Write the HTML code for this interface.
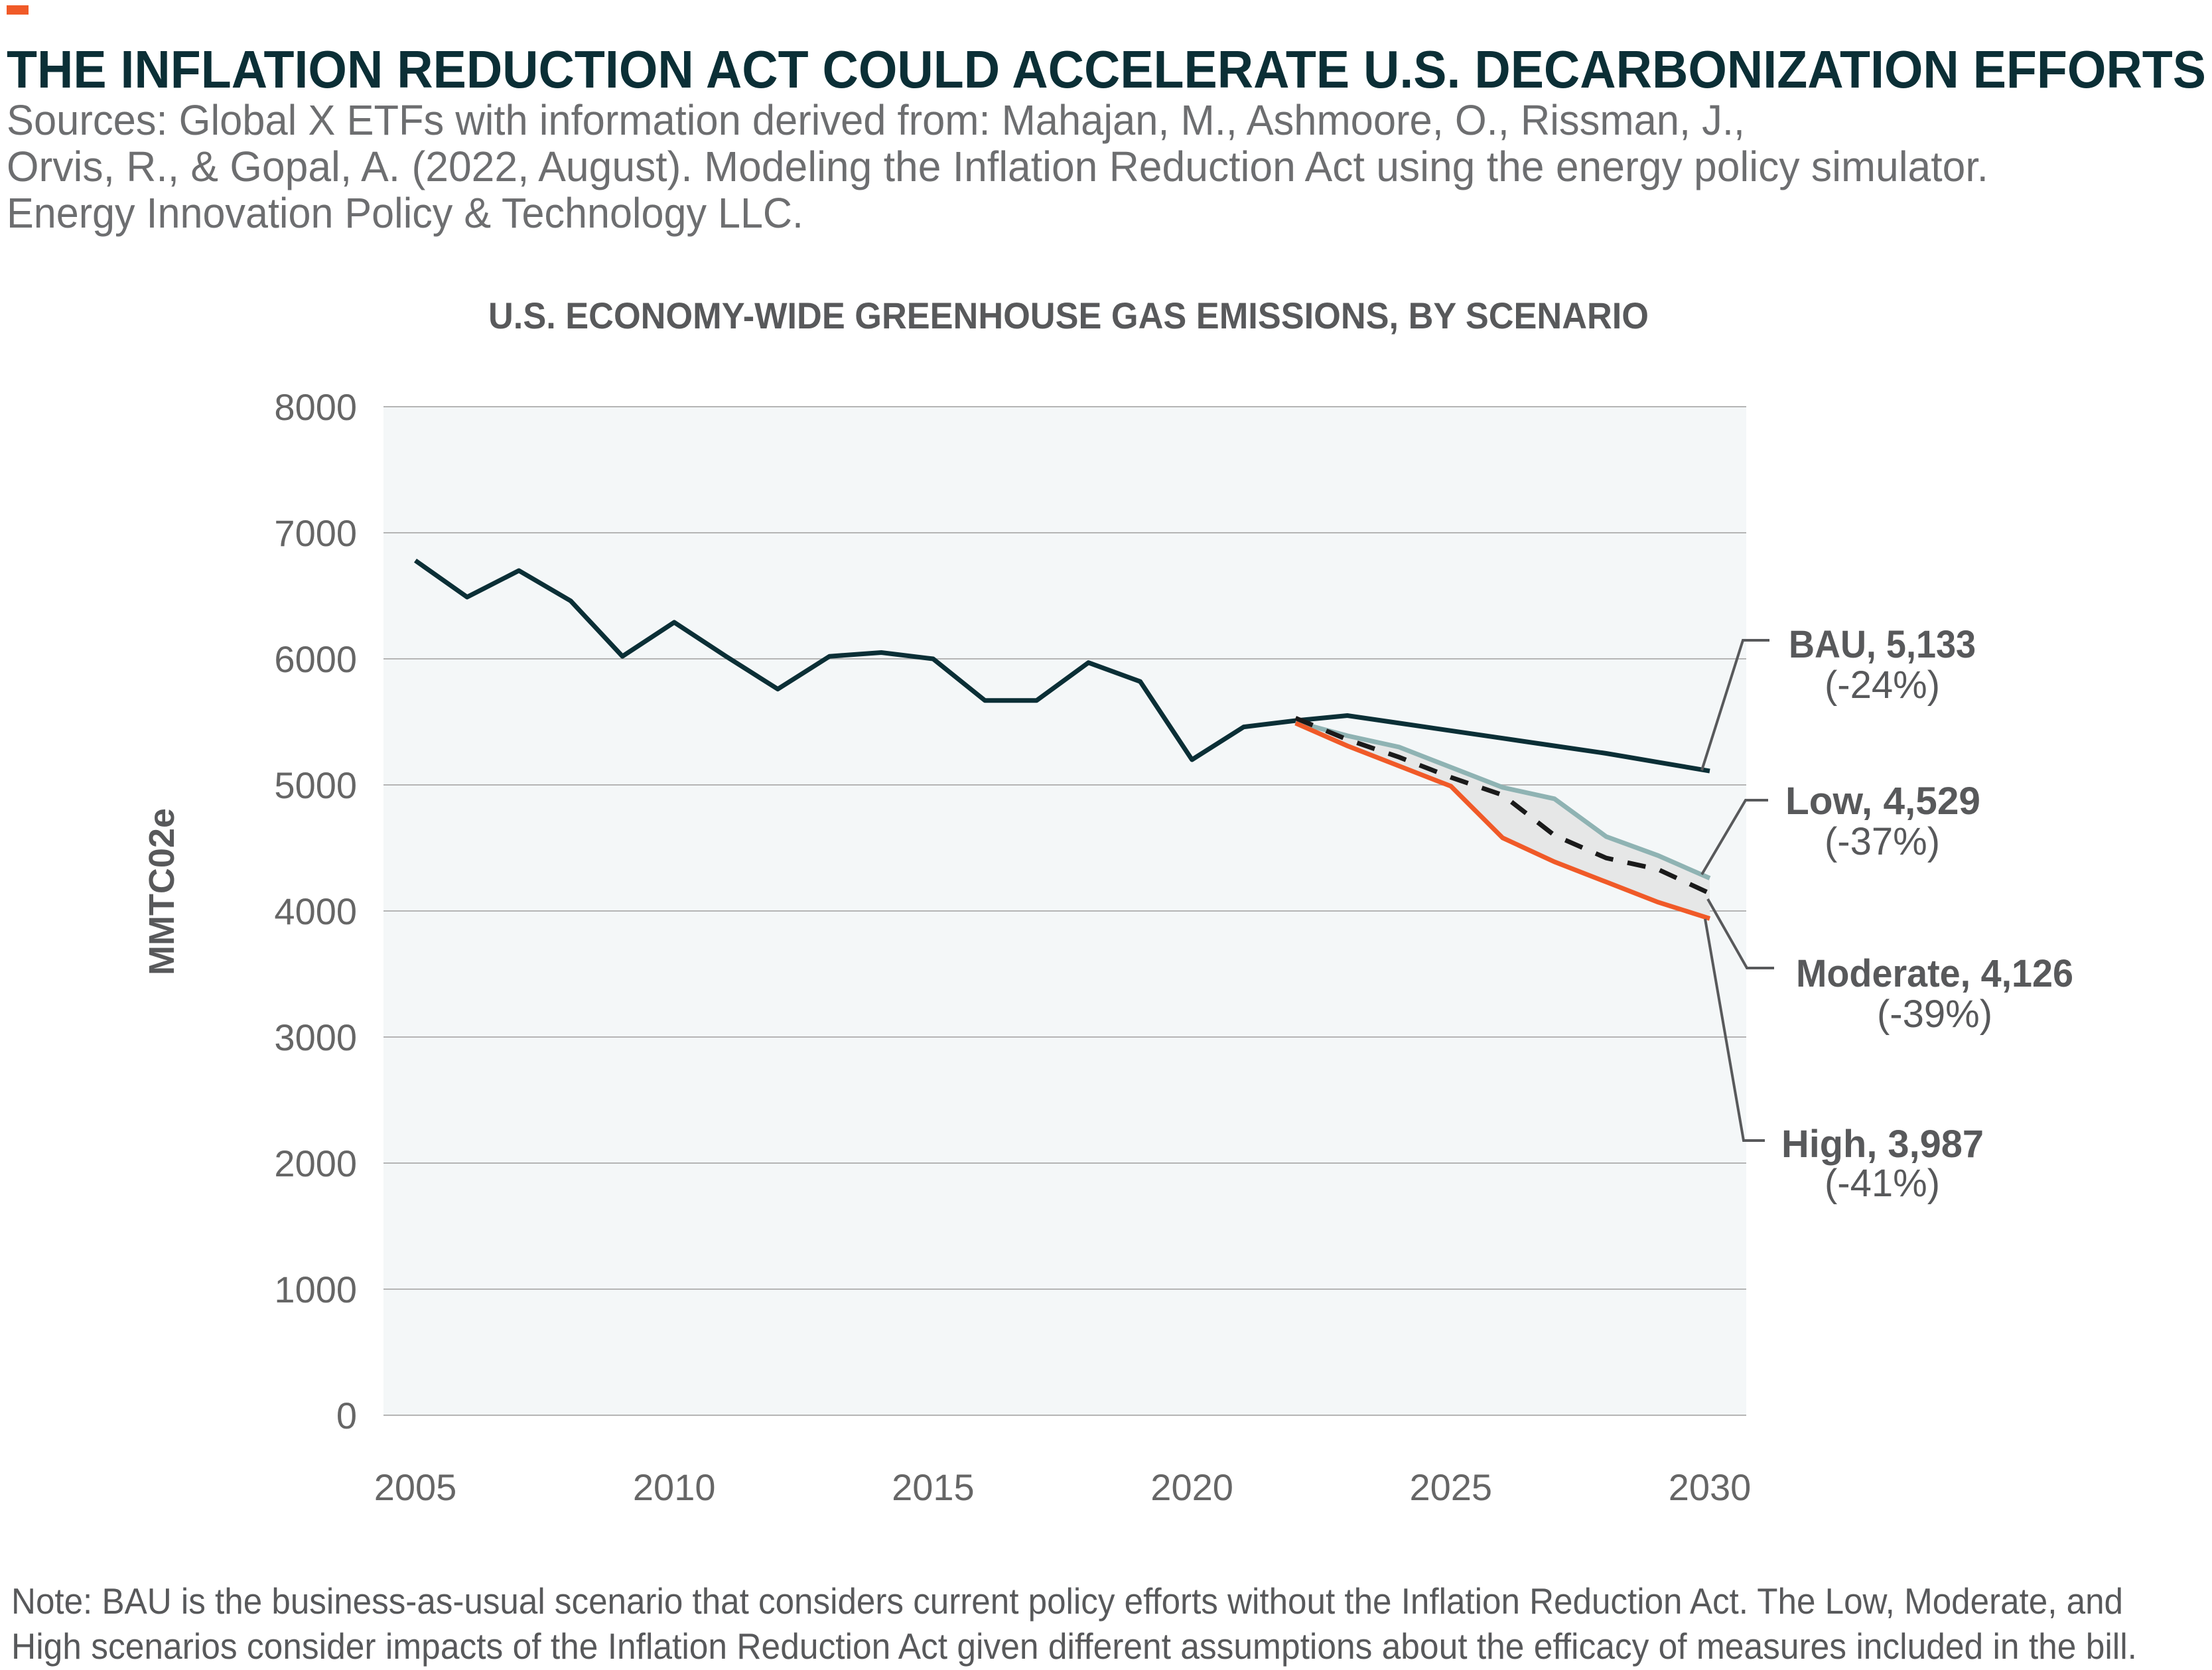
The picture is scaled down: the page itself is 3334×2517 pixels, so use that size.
<!DOCTYPE html>
<html><head><meta charset="utf-8"><style>body{margin:0;background:#fff}svg{display:block}text{font-family:"Liberation Sans",sans-serif}</style></head>
<body>
<svg id="c" width="3334" height="2517" viewBox="0 0 3334 2517">
<rect x="10" y="8" width="33" height="14" fill="#f05a28"/>
<text x="10" y="132" font-size="80" font-weight="bold" fill="#0b2f36" textLength="3315" lengthAdjust="spacingAndGlyphs">THE INFLATION REDUCTION ACT COULD ACCELERATE U.S. DECARBONIZATION EFFORTS</text>
<g fill="#6d6e70" font-size="64">
<text x="10" y="203" textLength="2620" lengthAdjust="spacingAndGlyphs">Sources: Global X ETFs with information derived from: Mahajan, M., Ashmoore, O., Rissman, J.,</text>
<text x="10" y="273" textLength="2987" lengthAdjust="spacingAndGlyphs">Orvis, R., &amp; Gopal, A. (2022, August). Modeling the Inflation Reduction Act using the energy policy simulator.</text>
<text x="10" y="343" textLength="1201" lengthAdjust="spacingAndGlyphs">Energy Innovation Policy &amp; Technology LLC.</text>
</g>
<text x="736" y="495" font-size="56" font-weight="bold" fill="#58595b" textLength="1749" lengthAdjust="spacingAndGlyphs">U.S. ECONOMY-WIDE GREENHOUSE GAS EMISSIONS, BY SCENARIO</text>
<rect x="578" y="613" width="2054" height="1520" fill="#f4f7f8"/>
<g id="grid"></g><g id="series"></g>
<text transform="translate(262,1344) rotate(-90)" text-anchor="middle" font-size="54" font-weight="bold" fill="#58595b">MMTC02e</text>
<g stroke="#58595b" stroke-width="4" fill="none">
<polyline points="2565,1161 2627,965 2667,965"/>
<polyline points="2565,1318 2631,1206 2665,1206"/>
<polyline points="2574,1355 2633,1459 2674,1459"/>
<polyline points="2570,1385 2628,1719 2660,1719"/>
</g>
<g fill="#58595b" font-size="58">
<text x="2696" y="991" font-weight="bold" textLength="282" lengthAdjust="spacingAndGlyphs">BAU,  5,133</text>
<text x="2837" y="1052" text-anchor="middle">(-24%)</text>
<text x="2691" y="1227" font-weight="bold" textLength="294" lengthAdjust="spacingAndGlyphs">Low,  4,529</text>
<text x="2837" y="1288" text-anchor="middle">(-37%)</text>
<text x="2707" y="1487" font-weight="bold" textLength="418" lengthAdjust="spacingAndGlyphs">Moderate,  4,126</text>
<text x="2916" y="1548" text-anchor="middle">(-39%)</text>
<text x="2685" y="1744" font-weight="bold" textLength="305" lengthAdjust="spacingAndGlyphs">High,  3,987</text>
<text x="2837" y="1803" text-anchor="middle">(-41%)</text>
</g>
<g fill="#58595b" font-size="55">
<text x="17" y="2432" textLength="3183" lengthAdjust="spacingAndGlyphs">Note: BAU is the business-as-usual scenario that considers current policy efforts without the Inflation Reduction Act. The Low, Moderate, and</text>
<text x="17" y="2500" textLength="3204" lengthAdjust="spacingAndGlyphs">High scenarios consider impacts of the Inflation Reduction Act given different assumptions about the efficacy of measures included in the bill.</text>
</g>
</svg>
<script>
const years=[2005,2006,2007,2008,2009,2010,2011,2012,2013,2014,2015,2016,2017,2018,2019,2020,2021,2022,2023,2024,2025,2026,2027,2028,2029,2030];
const bau=[6780,6490,6700,6460,6020,6290,6020,5760,6020,6050,6000,5670,5670,5970,5820,5200,5460,5510,5550,5490,5430,5370,5310,5250,5180,5110];
const projYears=[2022,2023,2024,2025,2026,2027,2028,2029,2030];
const low=[5500,5390,5300,5140,4980,4890,4590,4440,4260];
const moderate=[5530,5360,5220,5060,4920,4600,4420,4330,4140];
const high=[5490,5310,5150,4990,4580,4390,4230,4070,3940];
const yTicks=[0,1000,2000,3000,4000,5000,6000,7000,8000];
const xTicks=[2005,2010,2015,2020,2025,2030];
const NS='http://www.w3.org/2000/svg';
const X=y=>626+(y-2005)*(2577-626)/25;
const Y=v=>2133-v*(2133-613)/8000;
function mk(t,a,p){const e=document.createElementNS(NS,t);for(const k in a)e.setAttribute(k,a[k]);p.appendChild(e);return e;}
const grid=document.getElementById('grid'),ser=document.getElementById('series');
yTicks.forEach(v=>{
 const l=mk('line',{x1:578,x2:2632,y1:Y(v),y2:Y(v),stroke:'#b5b5b5','stroke-width':2},grid);
 
 
 const t=mk('text',{x:538,y:Y(v)+20,'text-anchor':'end','font-size':56,fill:'#666'},grid);
 t.textContent=v;
 
 
});
xTicks.forEach(v=>{
 const t=mk('text',{x:X(v),y:2261,'text-anchor':'middle','font-size':56,fill:'#666'},grid);
 t.textContent=v;
 
 
});
const pts=(xs,vs)=>xs.map((x,i)=>X(x)+','+Y(vs[i])).join(' ');
const band=mk('polygon',{points:pts(projYears,low)+' '+pts(projYears.slice().reverse(),high.slice().reverse()),fill:'#e6e7e7'},ser);


const b=mk('polyline',{points:pts(years,bau),fill:'none',stroke:'#0b2f36','stroke-width':7,'stroke-linejoin':'round'},ser);


const lo=mk('polyline',{points:pts(projYears,low),fill:'none',stroke:'#8fb3b3','stroke-width':7},ser);


const hi=mk('polyline',{points:pts(projYears,high),fill:'none',stroke:'#f05a28','stroke-width':7},ser);


const md=mk('polyline',{points:pts(projYears,moderate),fill:'none',stroke:'#1a1a1a','stroke-width':7,'stroke-dasharray':'28 22'},ser);


</script>
</body></html>
